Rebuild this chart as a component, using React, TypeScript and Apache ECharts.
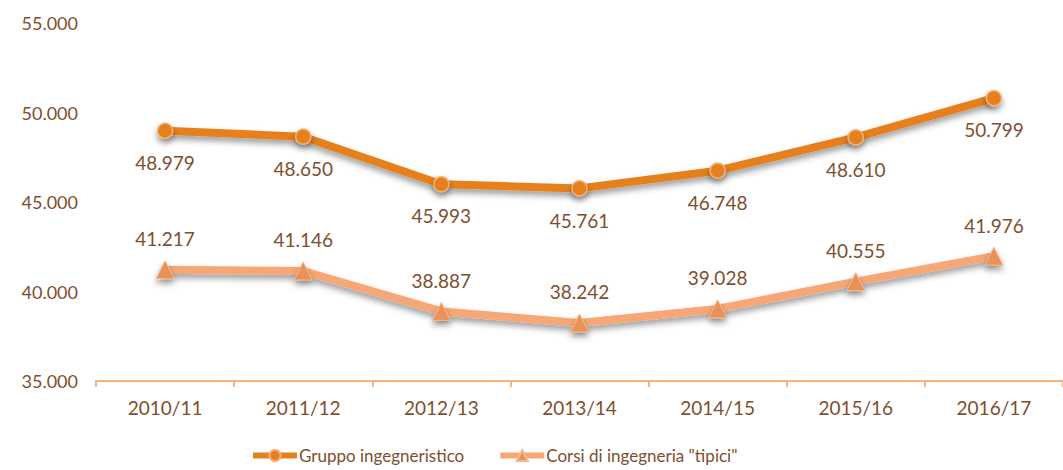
import React, { useEffect, useRef } from "react";
import * as echarts from "echarts";

const categories = ["2010/11", "2011/12", "2012/13", "2013/14", "2014/15", "2015/16", "2016/17"];
const gruppo = [48979, 48650, 45993, 45761, 46748, 48610, 50799];
const tipici = [41217, 41146, 38887, 38242, 39028, 40555, 41976];
const seriesNames = ["Gruppo ingegneristico", 'Corsi di ingegneria "tipici"'];

const fmt = (v: number) => {
  const s = String(Math.round(v));
  return s.replace(/\B(?=(\d{3})+(?!\d))/g, ".");
};

const FONT = "Lato";
const TEXT = "#7f4e2e";

export default function App() {
  const ref = useRef<HTMLDivElement>(null);
  useEffect(() => {
    const chart = echarts.init(ref.current!, null, { renderer: "svg" });
    chart.setOption({
      animation: false,
      backgroundColor: "#ffffff",
      grid: { left: 96, top: 23, width: 976, height: 358 },
      xAxis: {
        type: "category",
        data: categories,
        axisLine: { lineStyle: { color: "#f6b27a", width: 2 } },
        axisTick: { show: true, length: 6, lineStyle: { color: "#f6b27a", width: 2 } },
        axisLabel: { color: TEXT, fontFamily: FONT, fontSize: 19, margin: 17 },
      },
      yAxis: {
        type: "value",
        min: 35000,
        max: 55000,
        interval: 5000,
        axisLine: { show: false },
        axisTick: { show: false },
        splitLine: { show: false },
        axisLabel: { color: TEXT, fontFamily: FONT, fontSize: 18, margin: 18, formatter: (v: number) => fmt(v) },
      },
      legend: {
        bottom: 1,
        left: 245,
        itemWidth: 44,
        itemHeight: 14,
        itemGap: 33,
        textStyle: { color: TEXT, fontFamily: FONT, fontSize: 17, padding: [0, 0, 0, -3] },
        lineStyle: { width: 6 },
        data: seriesNames,
      },
      series: [
        {
          name: seriesNames[0],
          type: "line",
          data: gruppo,
          symbol: "circle",
          symbolSize: 15,
          color: "#e5801f",
          lineStyle: { width: 8, color: "#e5801f", shadowColor: "rgba(0,0,0,0.4)", shadowBlur: 6, shadowOffsetY: 4 },
          itemStyle: { color: "#e5801f", borderColor: "#f3b27a", borderWidth: 1.5, shadowColor: "rgba(0,0,0,0.4)", shadowBlur: 6, shadowOffsetY: 4 },
          label: { show: true, position: "bottom", distance: 14, color: TEXT, fontFamily: FONT, fontSize: 19, formatter: (p: any) => fmt(p.value) },
        },
        {
          name: seriesNames[1],
          type: "line",
          data: tipici,
          symbol: "triangle",
          symbolSize: 18,
          color: "#f7a774",
          lineStyle: { width: 8, color: "#f7a774", shadowColor: "rgba(0,0,0,0.4)", shadowBlur: 6, shadowOffsetY: 4 },
          itemStyle: { color: "#e8925a", borderColor: "#f7b88c", borderWidth: 1, shadowColor: "rgba(0,0,0,0.4)", shadowBlur: 6, shadowOffsetY: 4 },
          label: { show: true, position: "top", distance: 12, color: TEXT, fontFamily: FONT, fontSize: 19, formatter: (p: any) => fmt(p.value) },
        },
      ],
    });
    return () => chart.dispose();
  }, []);
  return <div ref={ref} style={{ position: "fixed", left: 0, top: 0, width: 1063, height: 470 }} />;
}
